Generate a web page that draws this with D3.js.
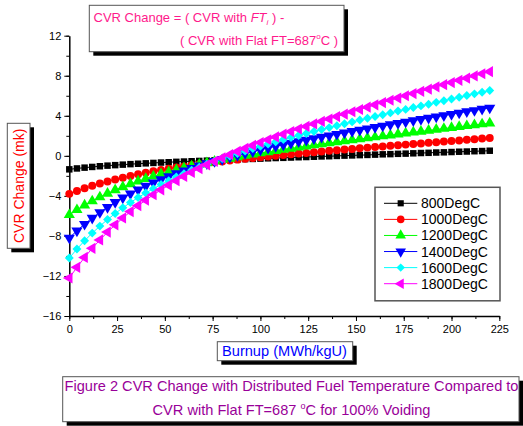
<!DOCTYPE html>
<html><head><meta charset="utf-8">
<script src="https://cdn.jsdelivr.net/npm/d3@7"></script>
<style>body{margin:0;background:#fff}svg{display:block;font-family:"Liberation Sans",Arial,sans-serif}</style>
</head><body><svg id="c" width="523" height="426"></svg>
<script>
const burnup = d3.range(56).map(k => k * 4);
const seriesNames = ["800DegC","1000DegC","1200DegC","1400DegC","1600DegC","1800DegC"];
const s800 = [-1.35,-1.26,-1.18,-1.11,-1.04,-0.98,-0.93,-0.88,-0.83,-0.79,-0.75,-0.71,-0.67,-0.64,-0.60,-0.57,-0.54,-0.51,-0.48,-0.45,-0.42,-0.39,-0.36,-0.33,-0.31,-0.28,-0.25,-0.22,-0.20,-0.17,-0.14,-0.12,-0.09,-0.06,-0.04,-0.01,0.02,0.04,0.07,0.09,0.12,0.15,0.17,0.20,0.22,0.25,0.28,0.30,0.33,0.35,0.38,0.41,0.43,0.46,0.48,0.51];
const s1000 = [-3.80,-3.51,-3.25,-3.00,-2.77,-2.56,-2.36,-2.18,-2.01,-1.85,-1.70,-1.55,-1.42,-1.29,-1.17,-1.06,-0.95,-0.85,-0.75,-0.65,-0.56,-0.47,-0.38,-0.30,-0.22,-0.14,-0.07,0.01,0.08,0.15,0.23,0.29,0.36,0.43,0.50,0.56,0.63,0.69,0.75,0.82,0.88,0.94,1.00,1.06,1.12,1.18,1.24,1.30,1.36,1.42,1.48,1.54,1.60,1.66,1.72,1.78];
const s1200 = [-5.90,-5.40,-4.94,-4.52,-4.12,-3.76,-3.42,-3.11,-2.82,-2.54,-2.29,-2.05,-1.82,-1.61,-1.41,-1.22,-1.04,-0.87,-0.71,-0.55,-0.40,-0.26,-0.12,0.02,0.15,0.27,0.39,0.51,0.63,0.74,0.85,0.96,1.07,1.18,1.28,1.38,1.48,1.58,1.68,1.78,1.87,1.97,2.06,2.16,2.25,2.35,2.44,2.53,2.63,2.72,2.81,2.90,2.99,3.08,3.17,3.26];
const s1400 = [-8.20,-7.48,-6.82,-6.21,-5.65,-5.13,-4.64,-4.19,-3.78,-3.39,-3.02,-2.68,-2.36,-2.06,-1.77,-1.50,-1.25,-1.00,-0.77,-0.55,-0.34,-0.13,0.06,0.25,0.43,0.61,0.78,0.95,1.11,1.27,1.43,1.58,1.73,1.88,2.02,2.17,2.31,2.45,2.58,2.72,2.86,2.99,3.12,3.26,3.39,3.52,3.65,3.78,3.91,4.03,4.16,4.29,4.42,4.54,4.67,4.79];
const s1600 = [-10.20,-9.31,-8.48,-7.72,-7.02,-6.36,-5.76,-5.19,-4.66,-4.17,-3.71,-3.28,-2.87,-2.48,-2.12,-1.78,-1.45,-1.14,-0.84,-0.55,-0.28,-0.01,0.24,0.49,0.73,0.96,1.19,1.41,1.62,1.83,2.04,2.24,2.44,2.63,2.82,3.01,3.20,3.39,3.57,3.75,3.93,4.11,4.29,4.47,4.64,4.82,4.99,5.16,5.34,5.51,5.68,5.85,6.02,6.19,6.36,6.53];
const s1800 = [-12.20,-11.14,-10.15,-9.24,-8.40,-7.62,-6.89,-6.21,-5.57,-4.98,-4.42,-3.89,-3.40,-2.93,-2.48,-2.06,-1.66,-1.27,-0.90,-0.55,-0.21,0.12,0.44,0.74,1.04,1.33,1.61,1.89,2.16,2.42,2.68,2.94,3.19,3.44,3.68,3.92,4.16,4.40,4.63,4.86,5.09,5.32,5.55,5.77,6.00,6.22,6.44,6.66,6.89,7.11,7.32,7.54,7.76,7.98,8.20,8.41];
const xMajor = [0,25,50,75,100,125,150,175,200,225];
const yMajor = [-16,-12,-8,-4,0,4,8,12];

const seriesValues = [s800,s1000,s1200,s1400,s1600,s1800];
const colors = ["#000000","#ff0000","#00ff00","#0000ff","#00ffff","#ff00ff"];
const shapes = [
  {t:d3.symbolSquare, s:42, r:0},
  {t:d3.symbolCircle, s:50, r:0},
  {t:d3.symbolTriangle, s:54, r:0},
  {t:d3.symbolTriangle, s:54, r:180},
  {t:d3.symbolSquare, s:40, r:45},
  {t:d3.symbolTriangle, s:54, r:-90}
];

const svg = d3.select("#c");
const x = d3.scaleLinear().domain([0,225]).range([69.3,499.3]);
const y = d3.scaleLinear().domain([-16,12]).range([316,35.7]);

// axes
const xMinor = d3.range(0,226,12.5);
const yMinor = d3.range(-16,12.1,2);
svg.append("g").attr("transform","translate(0,316)")
  .call(d3.axisBottom(x).tickValues(xMinor).tickSize(3).tickFormat(""))
  .call(g=>g.select(".domain").remove());
svg.append("g").attr("transform","translate(69.3,0)")
  .call(d3.axisLeft(y).tickValues(yMinor).tickSize(3).tickFormat(""))
  .call(g=>g.select(".domain").remove());
const gx = svg.append("g").attr("transform","translate(0,316)")
  .call(d3.axisBottom(x).tickValues(xMajor).tickSize(5).tickSizeOuter(0).tickPadding(4));
const gy = svg.append("g").attr("transform","translate(69.3,0)")
  .call(d3.axisLeft(y).tickValues(yMajor).tickSize(5).tickSizeOuter(0).tickPadding(3));
[gx,gy].forEach(g=>{
  g.selectAll("text").attr("font-size",11).attr("font-family","Liberation Sans, Arial").attr("fill","#000");
  g.select(".domain").attr("stroke-width",1.5);
  g.selectAll(".tick line").attr("stroke-width",1);
});
svg.selectAll(".tick line").attr("stroke","#000");

// series
const plot = svg.append("g");
seriesValues.forEach((vals,i)=>{
  const pts = burnup.map((b,j)=>[b,vals[j]]);
  plot.append("path").datum(pts)
    .attr("fill","none").attr("stroke",colors[i]).attr("stroke-width",1)
    .attr("d", d3.line().x(d=>x(d[0])).y(d=>y(d[1])));
  const sym = d3.symbol().type(shapes[i].t).size(shapes[i].s);
  plot.selectAll(null).data(pts).join("path")
    .attr("d", sym)
    .attr("transform", d=>`translate(${x(d[0])},${y(d[1])}) rotate(${shapes[i].r})`)
    .attr("fill",colors[i]);
});

// legend
const lg = svg.append("g");
lg.append("rect").attr("x",375).attr("y",187.3).attr("width",125).attr("height",113.5)
  .attr("fill","#fff").attr("stroke","#555").attr("stroke-width",1.5);
seriesNames.forEach((n,i)=>{
  const cy = 203.3 + i*16.08;
  lg.append("line").attr("x1",384).attr("x2",417.3).attr("y1",cy).attr("y2",cy)
    .attr("stroke",colors[i]).attr("stroke-width",1);
  lg.append("path").attr("d", d3.symbol().type(shapes[i].t).size(shapes[i].s*0.9))
    .attr("transform",`translate(400.7,${cy}) rotate(${shapes[i].r})`).attr("fill",colors[i]);
  lg.append("text").attr("x",421).attr("y",cy+5).attr("font-size",14).attr("fill","#000").text(n);
});

// boxed label helper
function box(x0,y0,w,h){
  svg.append("rect").attr("x",x0+4).attr("y",y0+4).attr("width",w).attr("height",h).attr("fill","#000");
  svg.append("rect").attr("x",x0).attr("y",y0).attr("width",w).attr("height",h)
    .attr("fill","#fff").attr("stroke","#555").attr("stroke-width",1);
}

// top annotation
box(89.3,5.3,254.7,46.4);
const t1 = svg.append("text").attr("x",93.5).attr("y",21.5).attr("font-size",13).attr("fill","#ff1a8c");
t1.append("tspan").text("CVR Change = ( CVR with ");
t1.append("tspan").attr("font-style","italic").text("FT");
t1.append("tspan").attr("font-style","italic").attr("font-size",8).attr("dy",3).text("i");
t1.append("tspan").attr("dy",-3).text(" ) -");
const t2 = svg.append("text").attr("x",338).attr("y",45).attr("font-size",13).attr("fill","#ff1a8c").attr("text-anchor","end");
t2.append("tspan").text("( CVR with Flat FT=687");
t2.append("tspan").attr("font-size",8).attr("dy",-6).text("o");
t2.append("tspan").attr("dy",6).text("C )");

// y title
box(7.3,123.3,22.7,125);
svg.append("text").attr("transform","translate(23.5,185.8) rotate(-90)").attr("text-anchor","middle")
  .attr("font-size",14).attr("fill","#ff0000").text("CVR Change (mk)");

// x title
box(217.3,341.7,135.4,19);
svg.append("text").attr("x",284.5).attr("y",356.2).attr("text-anchor","middle")
  .attr("font-size",14.6).attr("fill","#0000ff").text("Burnup (MWh/kgU)");

// caption
box(62.7,376.7,456.3,45);
svg.append("text").attr("x",291.5).attr("y",390.5).attr("text-anchor","middle")
  .attr("font-size",14.6).attr("fill","#990099").text("Figure 2 CVR Change with Distributed Fuel Temperature Compared to");
const c2 = svg.append("text").attr("x",291.5).attr("y",414.5).attr("text-anchor","middle")
  .attr("font-size",14.6).attr("fill","#990099");
c2.append("tspan").text("CVR with Flat FT=687 ");
c2.append("tspan").attr("font-size",9).attr("dy",-6).text("o");
c2.append("tspan").attr("dy",6).text("C for 100% Voiding");
</script></body></html>
